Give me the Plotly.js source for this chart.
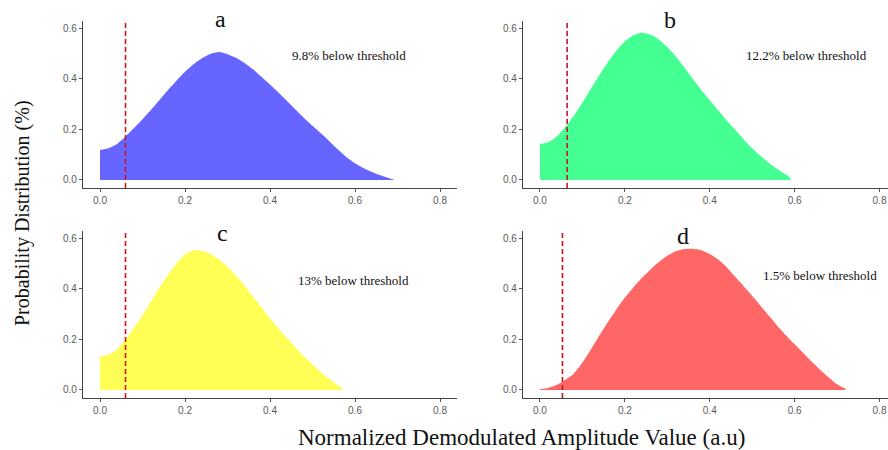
<!DOCTYPE html>
<html>
<head>
<meta charset="utf-8">
<script src="https://cdn.plot.ly/plotly-3.0.1.min.js"></script>
<style>html,body{margin:0;padding:0;background:#fff;}#chart{width:888px;height:450px;}</style>
</head>
<body>
<div id="chart"></div>
<script>
// ---- data ----
const panelLabels = ["a", "b", "c", "d"];
const belowText = ["9.8% below threshold", "12.2% below threshold", "13% below threshold", "1.5% below threshold"];
const thresholds = [0.060, 0.064, 0.060, 0.053];
const fillColors = ["#6666ff", "#44ff91", "#ffff55", "#ff6666"];

const xA = [0.00,0.02,0.04,0.06,0.08,0.10,0.12,0.14,0.16,0.18,0.20,0.22,0.24,0.26,0.28,0.30,0.32,0.34,0.36,0.38,0.40,0.42,0.44,0.46,0.48,0.50,0.52,0.54,0.56,0.58,0.60,0.62,0.64,0.66,0.68,0.69];
const yA = [0.118,0.125,0.142,0.172,0.205,0.240,0.277,0.316,0.355,0.392,0.427,0.457,0.481,0.498,0.505,0.497,0.483,0.462,0.437,0.408,0.377,0.345,0.312,0.278,0.245,0.214,0.184,0.152,0.120,0.090,0.066,0.047,0.031,0.018,0.007,0.003];

const xB = [0.00,0.02,0.04,0.06,0.08,0.10,0.12,0.14,0.16,0.18,0.20,0.22,0.24,0.26,0.28,0.30,0.32,0.34,0.36,0.38,0.40,0.42,0.44,0.46,0.48,0.50,0.52,0.54,0.56,0.58,0.59];
const yB = [0.142,0.150,0.172,0.210,0.255,0.305,0.360,0.415,0.465,0.510,0.548,0.572,0.582,0.575,0.555,0.525,0.488,0.445,0.400,0.355,0.315,0.275,0.235,0.198,0.160,0.125,0.094,0.066,0.042,0.020,0.008];

const xC = [0.00,0.02,0.04,0.06,0.08,0.10,0.12,0.14,0.16,0.18,0.20,0.22,0.24,0.26,0.28,0.30,0.32,0.34,0.36,0.38,0.40,0.42,0.44,0.46,0.48,0.50,0.52,0.54,0.56,0.57];
const yC = [0.132,0.140,0.160,0.200,0.245,0.295,0.350,0.405,0.455,0.500,0.535,0.552,0.550,0.537,0.515,0.487,0.452,0.413,0.370,0.326,0.283,0.242,0.205,0.168,0.133,0.100,0.070,0.042,0.018,0.006];

const xD = [0.00,0.02,0.04,0.06,0.08,0.10,0.12,0.14,0.16,0.18,0.20,0.22,0.24,0.26,0.28,0.30,0.32,0.34,0.36,0.38,0.40,0.42,0.44,0.46,0.48,0.50,0.52,0.54,0.56,0.58,0.60,0.62,0.64,0.66,0.68,0.70,0.72];
const yD = [0.003,0.008,0.020,0.040,0.065,0.108,0.160,0.215,0.268,0.318,0.365,0.405,0.442,0.475,0.505,0.530,0.548,0.557,0.558,0.552,0.537,0.515,0.485,0.447,0.410,0.372,0.332,0.292,0.252,0.215,0.180,0.146,0.112,0.080,0.050,0.022,0.004];

const xTicks = [0.0, 0.2, 0.4, 0.6, 0.8];
const xTickText = ["0.0", "0.2", "0.4", "0.6", "0.8"];
const yTicks = [0.0, 0.2, 0.4, 0.6];
const yTickText = ["0.0", "0.2", "0.4", "0.6"];

const xTitle = "Normalized Demodulated Amplitude Value (a.u)";
const yTitle = "Probability Distribution (%)";

// ---- build ----
const W = 888, H = 450;
const serif = "Liberation Serif, Times New Roman, serif";
const tickFont = {family: "Liberation Sans Narrow, Arial Narrow, Liberation Sans, sans-serif", size: 10, color: "#5a5a5a"};

const series = [[xA, yA], [xB, yB], [xC, yC], [xD, yD]];
const suffix = ["", "2", "3", "4"];

// pixel geometry of each panel: [left, right, bottom, top]
const geo = [
  [83, 457, 188, 21],
  [523, 888, 188, 21],
  [83, 457, 398, 231],
  [523, 888, 398, 231]
];
const xRanges = [[-0.04, 0.84], [-0.04, 0.82], [-0.04, 0.84], [-0.04, 0.82]];
const yRange = [-0.032, 0.628];

const traces = [];
const layout = {
  width: W, height: H,
  margin: {l: 0, r: 0, t: 0, b: 0},
  paper_bgcolor: "#ffffff", plot_bgcolor: "#ffffff",
  showlegend: false,
  shapes: [], annotations: []
};

series.forEach((s, i) => {
  const sx = suffix[i];
  traces.push({
    type: "scatter", mode: "lines",
    x: s[0], y: s[1],
    xaxis: "x" + sx, yaxis: "y" + sx,
    fill: "tozeroy", fillcolor: fillColors[i],
    line: {width: 0, color: fillColors[i], shape: "spline", smoothing: 0.6},
    hoverinfo: "skip"
  });
  const g = geo[i];
  layout["xaxis" + sx] = {
    domain: [g[0] / W, g[1] / W],
    range: xRanges[i],
    anchor: "y" + sx,
    tickvals: xTicks, ticktext: xTickText,
    ticks: "outside", ticklen: 3, tickwidth: 1, tickcolor: "#555555",
    tickfont: tickFont,
    showgrid: false, zeroline: false,
    showline: true, linecolor: "#444444", linewidth: 1.2,
    fixedrange: true
  };
  layout["yaxis" + sx] = {
    domain: [1 - g[2] / H, 1 - g[3] / H],
    range: yRange,
    anchor: "x" + sx,
    tickvals: yTicks, ticktext: yTickText,
    ticks: "outside", ticklen: 3, tickwidth: 1, tickcolor: "#555555",
    tickfont: tickFont,
    showgrid: false, zeroline: false,
    showline: true, linecolor: "#444444", linewidth: 1.2,
    fixedrange: true
  };
  layout.shapes.push({
    type: "line", xref: "x" + sx, yref: "y" + sx + " domain",
    x0: thresholds[i], x1: thresholds[i], y0: 0, y1: 0.99,
    line: {color: "#c8161d", width: 1.6, dash: "5px,3px"}
  });
});

// panel letters and threshold notes (positions in pixels)
const letterPos = [[220, 19], [670, 20], [222, 233], [683, 236]];
const notePos = [[349, 55], [806, 55], [353, 280], [820, 275]];
panelLabels.forEach((t, i) => {
  layout.annotations.push({
    xref: "paper", yref: "paper",
    x: letterPos[i][0] / W, y: 1 - letterPos[i][1] / H,
    xanchor: "center", yanchor: "middle",
    text: t, showarrow: false,
    font: {family: serif, size: 24, color: "#111111"}
  });
  layout.annotations.push({
    xref: "paper", yref: "paper",
    x: notePos[i][0] / W, y: 1 - notePos[i][1] / H,
    xanchor: "center", yanchor: "middle",
    text: belowText[i], showarrow: false,
    font: {family: serif, size: 13, color: "#111111"}
  });
});

layout.annotations.push({
  xref: "paper", yref: "paper",
  x: 521 / W, y: 1 - 437 / H, xanchor: "center", yanchor: "middle",
  text: xTitle, showarrow: false,
  font: {family: serif, size: 23, color: "#111111"}
});
layout.annotations.push({
  xref: "paper", yref: "paper",
  x: 22 / W, y: 1 - 213 / H, xanchor: "center", yanchor: "middle",
  text: yTitle, showarrow: false, textangle: -90,
  font: {family: serif, size: 20, color: "#111111"}
});

Plotly.newPlot("chart", traces, layout, {staticPlot: true, displayModeBar: false});
</script>
</body>
</html>
